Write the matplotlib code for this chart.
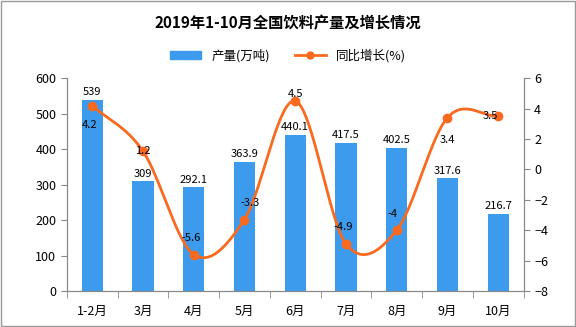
#!/usr/bin/env python3

import numpy as np
import matplotlib
matplotlib.use('Agg')
import matplotlib.pyplot as plt
from matplotlib.patches import Patch
from matplotlib.lines import Line2D

plt.rcParams['font.family'] = ['Noto Sans CJK SC', 'DejaVu Sans']

months = ['1-2月', '3月', '4月', '5月', '6月', '7月', '8月', '9月', '10月']
output = [539, 309, 292.1, 363.9, 440.1, 417.5, 402.5, 317.6, 216.7]
growth = [4.2, 1.2, -5.6, -3.3, 4.5, -4.9, -4, 3.4, 3.5]
growth_text = ['4.2', '1.2', '-5.6', '-3.3', '4.5', '-4.9', '-4', '3.4', '3.5']

BAR = '#3d9bee'
LINE = '#fa6a1e'


def catmull_rom(x, y, steps=40):
    # Catmull-Rom -kayra pisteiden lapi
    p = np.column_stack([x, y]).astype(float)
    p = np.vstack([2 * p[0] - p[1], p, 2 * p[-1] - p[-2]])
    t = np.linspace(0, 1, steps)[:, None]
    out = []
    for i in range(1, len(p) - 2):
        p0, p1, p2, p3 = p[i - 1], p[i], p[i + 1], p[i + 2]
        seg = 0.5 * ((2 * p1) + (-p0 + p2) * t + (2 * p0 - 5 * p1 + 4 * p2 - p3) * t ** 2
                     + (-p0 + 3 * p1 - 3 * p2 + p3) * t ** 3)
        out.append(seg)
    out = np.vstack(out)
    return out[:, 0], out[:, 1]


fig = plt.figure(figsize=(5.76, 3.27), dpi=100)
ax = fig.add_axes([0.116, 0.110, 0.793, 0.651])
ax2 = ax.twinx()

x = np.arange(len(months))
ax.bar(x, output, width=0.42, color=BAR, zorder=2)
for xi, v in zip(x, output):
    ax.text(xi, v + 8, f'{v:g}', ha='center', va='bottom', fontsize=8)

ax.set_xlim(-0.5, len(months) - 0.5)
ax.set_ylim(0, 600)
ax.set_yticks(range(0, 601, 100))
ax2.set_ylim(-8, 6)
ax2.set_yticks(range(-8, 7, 2))

xs, ys = catmull_rom(x, growth)
ax2.plot(xs, ys, color=LINE, lw=2, zorder=3)
ax2.plot(x, growth, 'o', color=LINE, ms=6, zorder=4)

# etiketit pisteiden viereen
offsets = [(-2, -14), (0, 0), (-2, 12), (4, 12), (0, 5), (-2, 12), (-3, 12), (0, -16), (-6, 0)]
for xi, g, t, (ox, oy) in zip(x, growth, growth_text, offsets):
    ax2.annotate(t, (xi, g), xytext=(ox, oy), textcoords='offset points',
                 ha='center', va='center', fontsize=8, zorder=5)

ax.set_xticks(x)
ax.set_xticklabels(months, fontsize=9)
ax.set_xticks(np.arange(-0.5, len(months), 1), minor=True)
ax.tick_params(axis='x', which='major', length=0, pad=10)
ax.tick_params(axis='x', which='minor', length=5, color='#888888')
ax.tick_params(axis='y', labelsize=9, length=4, color='#888888')
ax2.tick_params(axis='y', labelsize=9, length=4, color='#888888')

for a in (ax, ax2):
    a.spines['top'].set_visible(False)
    for s in ('left', 'right', 'bottom'):
        a.spines[s].set_color('#888888')

fig.text(0.5, 0.93, '2019年1-10月全国饮料产量及增长情况', ha='center', va='center',
         fontsize=11, fontweight='bold')

handles = [Patch(color=BAR), Line2D([0], [0], color=LINE, lw=2, marker='o', ms=5)]
fig.legend(handles, ['产量(万吨)', '同比增长(%)'], loc='center', bbox_to_anchor=(0.5, 0.83),
           ncol=2, frameon=False, fontsize=9, handlelength=2.5, columnspacing=2)

fig.patches.append(plt.Rectangle((0.001, 0.002), 0.997, 0.995, transform=fig.transFigure,
                                 fill=False, edgecolor='#999999', lw=1))

fig.savefig('out.png', dpi=100)
